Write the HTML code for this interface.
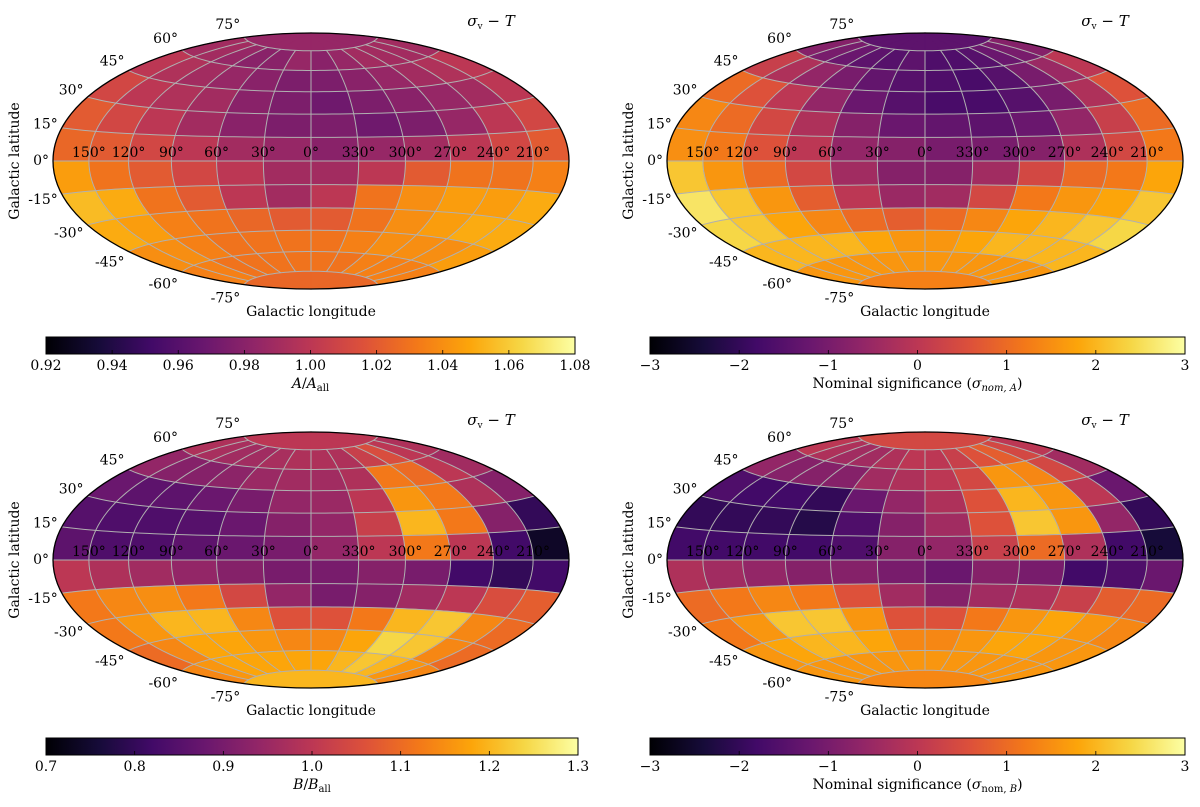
<!DOCTYPE html>
<html><head><meta charset="utf-8"><style>
body{margin:0;background:#fff;}
svg text{font-family:"DejaVu Serif","Liberation Serif",serif;fill:#000;}
</style></head><body>
<svg id="fig" width="1200" height="802" viewBox="0 0 1200 802" xmlns="http://www.w3.org/2000/svg">
<defs>
<linearGradient id="inferno" x1="0" x2="1" y1="0" y2="0">
<stop offset="0" stop-color="#000004"/><stop offset="0.1" stop-color="#160b39"/><stop offset="0.2" stop-color="#420a68"/><stop offset="0.3" stop-color="#6a176e"/><stop offset="0.4" stop-color="#932667"/><stop offset="0.5" stop-color="#bc3754"/><stop offset="0.6" stop-color="#dd513a"/><stop offset="0.7" stop-color="#f37819"/><stop offset="0.8" stop-color="#fca50a"/><stop offset="0.9" stop-color="#f6d746"/><stop offset="1" stop-color="#fcffa4"/>
</linearGradient>
</defs>
</svg>
<script>
// Grid: 12 lon columns (screen left->right: 180..150, 150..120, ..., 210..180), 12 lat rows (90..75 top to -75..-90)
const lonLabels=["150°","120°","90°","60°","30°","0°","330°","300°","270°","240°","210°"];
const latLabels=[75,60,45,30,15,0,-15,-30,-45,-60,-75];
const ticksA=["0.92","0.94","0.96","0.98","1.00","1.02","1.04","1.06","1.08"];
const ticksSig=["−3","−2","−1","0","1","2","3"];
const ticksB=["0.7","0.8","0.9","1.0","1.1","1.2","1.3"];
const dataA=[
[0.985,0.985,0.985,0.985,0.985,0.985,0.985,0.985,0.985,0.985,0.985,0.985],
[0.99,0.99,0.985,0.98,0.98,0.985,0.98,0.985,0.99,0.99,0.99,0.99],
[1.0,0.995,0.99,0.985,0.98,0.975,0.975,0.98,0.985,0.99,0.995,1.0],
[1.01,1.0,0.995,0.99,0.98,0.975,0.97,0.975,0.98,0.985,0.99,1.0],
[1.02,1.01,1.0,0.99,0.98,0.975,0.975,0.97,0.975,0.985,1.0,1.01],
[1.025,1.02,1.01,1.0,0.99,0.985,0.98,0.985,0.99,1.0,1.01,1.02],
[1.045,1.03,1.02,1.01,1.0,0.99,0.99,1.0,1.02,1.03,1.03,1.035],
[1.055,1.05,1.03,1.02,1.0,0.99,1.0,1.03,1.04,1.045,1.045,1.05],
[1.05,1.045,1.035,1.03,1.025,1.02,1.02,1.03,1.04,1.045,1.05,1.05],
[1.04,1.04,1.035,1.03,1.03,1.03,1.03,1.035,1.04,1.04,1.04,1.045],
[1.035,1.035,1.03,1.03,1.03,1.03,1.03,1.03,1.035,1.035,1.035,1.035],
[1.025,1.025,1.025,1.025,1.025,1.025,1.025,1.025,1.025,1.025,1.025,1.025]];
const dataSA=[
[-1.4,-1.4,-1.4,-1.4,-1.4,-1.4,-1.4,-1.4,-1.4,-1.4,-1.4,-1.4],
[-0.8,-1.0,-1.2,-1.4,-1.5,-1.4,-1.6,-1.6,-1.5,-1.2,-1.0,-0.8],
[0.2,-0.2,-0.6,-1.0,-1.3,-1.5,-1.6,-1.7,-1.5,-1.0,-0.5,0.0],
[1.0,0.6,0.0,-0.6,-1.2,-1.5,-1.7,-1.7,-1.5,-1.0,-0.2,0.6],
[1.4,1.0,0.4,-0.2,-0.8,-1.2,-1.3,-1.4,-1.2,-0.6,0.2,1.0],
[1.5,1.2,0.6,0.0,-0.6,-0.8,-1.0,-1.0,-0.8,-0.2,0.4,1.2],
[2.2,1.6,1.0,0.4,-0.4,-0.8,-0.8,-0.4,0.4,1.0,1.2,1.8],
[2.6,2.2,1.6,0.8,0.0,-0.5,-0.4,0.4,1.2,1.6,1.8,2.2],
[2.4,2.2,1.8,1.4,1.0,0.8,1.0,1.4,1.8,2.0,2.2,2.4],
[2.0,2.0,2.0,2.0,1.8,1.6,1.6,1.8,2.0,2.0,2.0,2.0],
[1.6,1.6,1.6,1.6,1.6,1.6,1.6,1.6,1.6,1.6,1.6,1.6],
[1.3,1.3,1.3,1.3,1.3,1.3,1.3,1.3,1.3,1.3,1.3,1.3]];
const dataB=[
[1.0,1.0,1.0,1.0,1.0,1.0,1.0,1.0,1.0,1.0,1.0,1.0],
[0.98,0.97,0.96,0.96,0.97,0.98,0.98,0.98,1.02,1.05,1.0,0.98],
[0.94,0.92,0.92,0.93,0.95,0.96,0.96,0.98,1.12,1.1,1.0,0.96],
[0.88,0.86,0.86,0.88,0.9,0.94,0.95,1.0,1.16,1.12,0.98,0.92],
[0.85,0.84,0.84,0.85,0.88,0.92,0.94,1.02,1.2,1.12,0.92,0.8],
[0.86,0.84,0.84,0.86,0.88,0.9,0.94,1.0,1.12,1.0,0.82,0.74],
[1.0,0.98,0.96,0.94,0.92,0.9,0.9,0.92,0.9,0.82,0.8,0.82],
[1.12,1.14,1.15,1.12,1.04,0.94,0.9,0.92,0.96,1.0,1.05,1.08],
[1.12,1.16,1.2,1.2,1.14,1.06,1.06,1.12,1.2,1.22,1.14,1.1],
[1.1,1.14,1.18,1.18,1.16,1.14,1.14,1.18,1.24,1.22,1.14,1.1],
[1.14,1.16,1.18,1.18,1.18,1.18,1.18,1.2,1.22,1.2,1.16,1.14],
[1.2,1.2,1.2,1.2,1.2,1.2,1.2,1.2,1.2,1.2,1.2,1.2]];
const dataSB=[
[0.4,0.4,0.4,0.4,0.4,0.4,0.4,0.4,0.4,0.4,0.4,0.4],
[0.0,-0.2,-0.4,-0.4,-0.2,0.0,0.0,0.2,0.6,0.8,0.4,0.0],
[-0.6,-0.8,-0.8,-0.8,-0.4,-0.2,0.0,0.4,1.6,1.4,0.4,-0.4],
[-1.6,-1.8,-1.8,-2.0,-1.2,-0.6,-0.2,0.6,2.0,1.6,0.0,-1.2],
[-2.0,-2.0,-2.0,-2.2,-1.6,-0.8,-0.4,0.6,2.2,1.6,-0.6,-2.0],
[-1.8,-1.8,-1.8,-1.8,-1.6,-0.8,-0.6,0.2,1.0,-0.2,-1.8,-2.4],
[-0.2,-0.4,-0.6,-0.8,-0.8,-1.0,-1.2,-0.8,-1.0,-1.8,-1.6,-1.2],
[1.0,1.2,1.4,1.2,0.6,-0.4,-0.8,-0.4,-0.2,0.2,0.8,1.0],
[1.2,1.6,2.2,2.2,1.6,0.6,0.6,1.2,1.6,1.8,1.6,1.4],
[1.6,1.8,2.0,2.0,1.8,1.4,1.4,1.6,1.8,1.8,1.6,1.6],
[1.6,1.6,1.6,1.6,1.6,1.6,1.6,1.6,1.6,1.6,1.6,1.6],
[1.4,1.4,1.4,1.4,1.4,1.4,1.4,1.4,1.4,1.4,1.4,1.4]];

const NS="http://www.w3.org/2000/svg";
const svg=document.getElementById('fig');
const stops=[[0,0,4],[22,11,57],[66,10,104],[106,23,110],[147,38,103],[188,55,84],[221,81,58],[243,120,25],[252,165,10],[246,215,70],[252,255,164]];
function cmap(t){t=Math.max(0,Math.min(1,t));const f=t*10,i=Math.min(9,Math.floor(f)),u=f-i;const a=stops[i],b=stops[i+1];
return `rgb(${Math.round(a[0]+(b[0]-a[0])*u)},${Math.round(a[1]+(b[1]-a[1])*u)},${Math.round(a[2]+(b[2]-a[2])*u)})`;}
function mk(tag,attrs,parent){const e=document.createElementNS(NS,tag);for(const k in attrs)e.setAttribute(k,attrs[k]);(parent||svg).appendChild(e);return e;}
function hammer(L,B){const l=L*Math.PI/180,b=B*Math.PI/180;const d=Math.sqrt(1+Math.cos(b)*Math.cos(l/2));
return [2*Math.SQRT2*Math.cos(b)*Math.sin(l/2)/d, Math.SQRT2*Math.sin(b)/d];}

function panel(P){
 const g=mk('g',{});
 
 
 const sx=P.a/(2*Math.SQRT2), sy=P.b/Math.SQRT2;
 const pt=(L,B)=>{const h=hammer(L,B);return [P.cx+sx*h[0],P.cy-sy*h[1]];};
 const data=P.data,nr=data.length,nc=data[0].length;
 const cells=mk('g',{},g);
 
 
 for(let r=0;r<nr;r++)for(let c=0;c<nc;c++){
  const B0=90-r*180/nr,B1=90-(r+1)*180/nr,L0=-180+c*360/nc,L1=-180+(c+1)*360/nc;
  const pts=[];const n=6;
  for(let k=0;k<=n;k++)pts.push(pt(L0+(L1-L0)*k/n,B0));
  for(let k=0;k<=n;k++)pts.push(pt(L1,B0+(B1-B0)*k/n));
  for(let k=0;k<=n;k++)pts.push(pt(L1-(L1-L0)*k/n,B1));
  for(let k=0;k<=n;k++)pts.push(pt(L0,B1-(B1-B0)*k/n));
  const col=cmap((data[r][c]-P.vmin)/(P.vmax-P.vmin));
  const p=mk('polygon',{points:pts.map(q=>q[0].toFixed(1)+','+q[1].toFixed(1)).join(' '),fill:col,stroke:col,'stroke-width':0.8},cells);
  
  
 }
 for(let L=-150;L<=150;L+=30){const pts=[];for(let B=-75;B<=75;B+=2.5)pts.push(pt(L,B));
  const e=mk('polyline',{points:pts.map(q=>q.join(',')).join(' '),fill:'none',stroke:'#b0b0b0','stroke-width':1},g);
  }
 for(let B=-75;B<=75;B+=15){const pts=[];for(let L=-180;L<=180;L+=5)pts.push(pt(L,B));
  const e=mk('polyline',{points:pts.map(q=>q.join(',')).join(' '),fill:'none',stroke:'#b0b0b0','stroke-width':1},g);
  }
 const el=mk('ellipse',{cx:P.cx,cy:P.cy,rx:P.a,ry:P.b,fill:'none',stroke:'#000','stroke-width':1.3},g);
 
 lonLabels.forEach((t,i)=>{const q=pt(-150+i*30,0);const e=mk('text',{x:q[0],y:q[1]-4,'text-anchor':'middle','font-size':14},g);e.textContent=t;
  });
 latLabels.forEach(B=>{const q=pt(-180,B);const sb=Math.sin(Math.abs(B)*Math.PI/180);
  const y=q[1]+(B>=0?-(1+13*sb):(2+11*sb))+5;
  const e=mk('text',{x:q[0]-4,y:y,'text-anchor':'end','font-size':14},g);e.textContent=B+'°';
  });
 const yl=mk('text',{x:0,y:0,transform:`translate(${P.cx-P.a-34},${P.cy}) rotate(-90)`,'text-anchor':'middle','font-size':14},g);yl.textContent='Galactic latitude';
 
 const xl=mk('text',{x:P.cx,y:P.cy+P.b+27,'text-anchor':'middle','font-size':14},g);xl.textContent='Galactic longitude';
 
 const tt=mk('text',{x:P.cx+180,y:P.cy-135,'text-anchor':'middle','font-size':15},g);
 tt.innerHTML='<tspan font-style="italic">σ</tspan><tspan font-size="9" dy="3">v</tspan><tspan dy="-3"> − </tspan><tspan font-style="italic">T</tspan>';
 
 const cb=mk('g',{},g);
 const r=mk('rect',{x:P.cbx,y:P.cby,width:P.cbw,height:17,fill:'url(#inferno)',stroke:'#000','stroke-width':1},cb);
 
 P.ticks.forEach((t,i)=>{const x=P.cbx+P.cbw*i/(P.ticks.length-1);
  const tl=mk('line',{x1:x,x2:x,y1:P.cby+17,y2:P.cby+13,stroke:'#000','stroke-width':0.8},cb);
  
  const e=mk('text',{x:x,y:P.cby+33,'text-anchor':'middle','font-size':14},cb);e.textContent=t;
  });
 const lb=mk('text',{x:P.cbx+P.cbw/2,y:P.cby+51,'text-anchor':'middle','font-size':14},cb);lb.innerHTML=P.label;
 
}
panel({name:'map-a-ratio',cx:311,cy:161,a:258,b:128,data:dataA,vmin:0.92,vmax:1.08,cbx:46,cby:337,cbw:529,ticks:ticksA,
 label:'<tspan font-style="italic">A</tspan>/<tspan font-style="italic">A</tspan><tspan font-size="10" dy="3">all</tspan>'});
panel({name:'map-a-significance',cx:925,cy:161,a:258,b:128,data:dataSA,vmin:-3,vmax:3,cbx:650,cby:337,cbw:535,ticks:ticksSig,
 label:'Nominal significance (<tspan font-style="italic">σ</tspan><tspan font-size="10" dy="3" font-style="italic">nom, A</tspan><tspan dy="-3">)</tspan>'});
panel({name:'map-b-ratio',cx:311,cy:560,a:258,b:128,data:dataB,vmin:0.7,vmax:1.3,cbx:46,cby:738,cbw:532,ticks:ticksB,
 label:'<tspan font-style="italic">B</tspan>/<tspan font-style="italic">B</tspan><tspan font-size="10" dy="3">all</tspan>'});
panel({name:'map-b-significance',cx:925,cy:560,a:258,b:128,data:dataSB,vmin:-3,vmax:3,cbx:650,cby:738,cbw:535,ticks:ticksSig,
 label:'Nominal significance (<tspan font-style="italic">σ</tspan><tspan font-size="10" dy="3">nom, </tspan><tspan font-size="10" font-style="italic">B</tspan><tspan dy="-3">)</tspan>'});
</script>
</body></html>
